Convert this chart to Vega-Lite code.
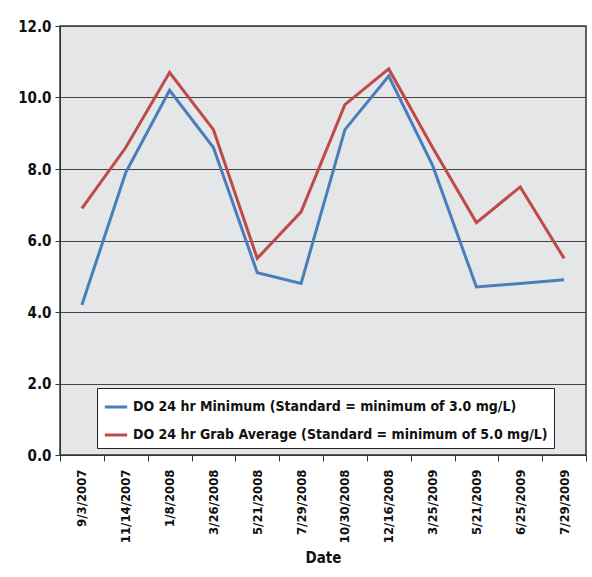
{
  "$schema": "https://vega.github.io/schema/vega-lite/v6.json",
  "width": 526,
  "height": 429,
  "autosize": {"type": "none"},
  "padding": {"left": 60, "top": 26, "right": 6, "bottom": 122},
  "background": "white",
  "config": {
    "font": "DejaVu Sans Condensed, Liberation Sans, sans-serif",
    "view": {"fill": "#e5e6e8", "stroke": "#333333", "strokeWidth": 1.5}
  },
  "data": {
    "values": [
      {"date": "9/3/2007", "series": "DO 24 hr Minimum (Standard = minimum of 3.0 mg/L)", "value": 4.2},
      {"date": "11/14/2007", "series": "DO 24 hr Minimum (Standard = minimum of 3.0 mg/L)", "value": 7.9},
      {"date": "1/8/2008", "series": "DO 24 hr Minimum (Standard = minimum of 3.0 mg/L)", "value": 10.2},
      {"date": "3/26/2008", "series": "DO 24 hr Minimum (Standard = minimum of 3.0 mg/L)", "value": 8.6},
      {"date": "5/21/2008", "series": "DO 24 hr Minimum (Standard = minimum of 3.0 mg/L)", "value": 5.1},
      {"date": "7/29/2008", "series": "DO 24 hr Minimum (Standard = minimum of 3.0 mg/L)", "value": 4.8},
      {"date": "10/30/2008", "series": "DO 24 hr Minimum (Standard = minimum of 3.0 mg/L)", "value": 9.1},
      {"date": "12/16/2008", "series": "DO 24 hr Minimum (Standard = minimum of 3.0 mg/L)", "value": 10.6},
      {"date": "3/25/2009", "series": "DO 24 hr Minimum (Standard = minimum of 3.0 mg/L)", "value": 8.1},
      {"date": "5/21/2009", "series": "DO 24 hr Minimum (Standard = minimum of 3.0 mg/L)", "value": 4.7},
      {"date": "6/25/2009", "series": "DO 24 hr Minimum (Standard = minimum of 3.0 mg/L)", "value": 4.8},
      {"date": "7/29/2009", "series": "DO 24 hr Minimum (Standard = minimum of 3.0 mg/L)", "value": 4.9},
      {"date": "9/3/2007", "series": "DO 24 hr Grab Average (Standard = minimum of 5.0 mg/L)", "value": 6.9},
      {"date": "11/14/2007", "series": "DO 24 hr Grab Average (Standard = minimum of 5.0 mg/L)", "value": 8.6},
      {"date": "1/8/2008", "series": "DO 24 hr Grab Average (Standard = minimum of 5.0 mg/L)", "value": 10.7},
      {"date": "3/26/2008", "series": "DO 24 hr Grab Average (Standard = minimum of 5.0 mg/L)", "value": 9.1},
      {"date": "5/21/2008", "series": "DO 24 hr Grab Average (Standard = minimum of 5.0 mg/L)", "value": 5.5},
      {"date": "7/29/2008", "series": "DO 24 hr Grab Average (Standard = minimum of 5.0 mg/L)", "value": 6.8},
      {"date": "10/30/2008", "series": "DO 24 hr Grab Average (Standard = minimum of 5.0 mg/L)", "value": 9.8},
      {"date": "12/16/2008", "series": "DO 24 hr Grab Average (Standard = minimum of 5.0 mg/L)", "value": 10.8},
      {"date": "3/25/2009", "series": "DO 24 hr Grab Average (Standard = minimum of 5.0 mg/L)", "value": 8.6},
      {"date": "5/21/2009", "series": "DO 24 hr Grab Average (Standard = minimum of 5.0 mg/L)", "value": 6.5},
      {"date": "6/25/2009", "series": "DO 24 hr Grab Average (Standard = minimum of 5.0 mg/L)", "value": 7.5},
      {"date": "7/29/2009", "series": "DO 24 hr Grab Average (Standard = minimum of 5.0 mg/L)", "value": 5.5}
    ]
  },
  "mark": {"type": "line", "strokeWidth": 3},
  "encoding": {
    "x": {
      "field": "date",
      "type": "nominal",
      "sort": null,
      "scale": {"paddingInner": 0, "paddingOuter": 0},
      "axis": {
        "title": "Date",
        "titleFontSize": 15,
        "titleFontWeight": "bold",
        "titleColor": "#111",
        "titlePadding": 8,
        "labelAngle": -90,
        "labelFontSize": 13,
        "labelFontWeight": "bold",
        "labelColor": "#111",
        "labelPadding": 8,
        "tickBand": "extent",
        "tickColor": "#333",
        "tickSize": 6,
        "domainColor": "#333",
        "grid": false
      }
    },
    "y": {
      "field": "value",
      "type": "quantitative",
      "scale": {"domain": [0, 12], "nice": false},
      "axis": {
        "title": null,
        "values": [0, 2, 4, 6, 8, 10, 12],
        "format": ".1f",
        "labelFontSize": 15,
        "labelFontWeight": "bold",
        "labelColor": "#111",
        "labelPadding": 4,
        "tickColor": "#333",
        "tickSize": 5,
        "domainColor": "#333",
        "grid": true,
        "gridColor": "#444",
        "gridWidth": 1
      }
    },
    "color": {
      "field": "series",
      "type": "nominal",
      "sort": null,
      "scale": {
        "domain": ["DO 24 hr Minimum (Standard = minimum of 3.0 mg/L)", "DO 24 hr Grab Average (Standard = minimum of 5.0 mg/L)"],
        "range": ["#4a7ebb", "#be4b48"]
      },
      "legend": {
        "title": null,
        "orient": "none",
        "legendX": 37,
        "legendY": 362,
        "fillColor": "white",
        "strokeColor": "#222",
        "padding": 6,
        "labelFontSize": 14,
        "labelFontWeight": "bold",
        "labelColor": "#111",
        "labelLimit": 500,
        "symbolType": "stroke",
        "symbolSize": 500,
        "symbolStrokeWidth": 3,
        "rowPadding": 8
      }
    }
  }
}
